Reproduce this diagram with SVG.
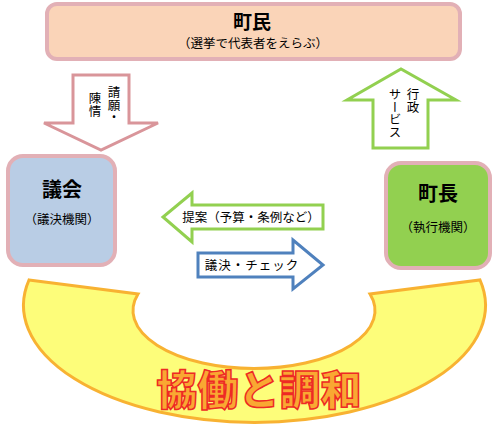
<svg xmlns="http://www.w3.org/2000/svg" width="500" height="433" viewBox="0 0 500 433">
<style>
.t{font-family:"Noto Sans CJK JP","Noto Sans",sans-serif;fill:#000;text-anchor:middle}
.b{font-weight:bold}
.box{stroke:#e2b0b6;stroke-width:4}
.arr{fill:#fff;stroke-width:3;stroke-linejoin:miter}
.v{writing-mode:vertical-rl;font-size:12.5px}
</style>
<rect width="500" height="433" fill="#fff"/>
<g id="connectors">
  <g id="petition">
    <path class="arr" stroke="#d9959a" d="M73 75 H129 V123 H158 L101 150 L44 123 H73 Z"/>
    <text class="t v" x="114" y="86" style="text-anchor:start">請願・</text>
    <text class="t v" x="95" y="92" style="text-anchor:start">陳情</text>
  </g>
  <g id="service">
    <path class="arr" stroke="#92d050" d="M373 148 V100 H347 L401 69 L456 100 H428 V148 Z"/>
    <text class="t v" x="413" y="88" style="text-anchor:start">行政</text>
    <text class="t v" x="395" y="88" style="text-anchor:start">サービス</text>
  </g>
  <g id="proposal">
    <path class="arr" stroke="#92d050" d="M323 205 V229 H192 V242 L163 217 L192 193 V205 Z"/>
    <text class="t" x="251" y="222" font-size="12.5">提案（予算・条例など）</text>
  </g>
  <g id="check">
    <path class="arr" stroke="#4f81bd" d="M198 253 H293 V240 L323 265 L293 289 V277 H198 Z"/>
    <text class="t" x="252" y="270" font-size="12.5" letter-spacing="1">議決・チェック</text>
  </g>
</g>
<g id="residents">
  <rect class="box" x="47" y="4" width="413" height="55" rx="10" fill="#fad4b8"/>
  <text class="t b" x="252" y="29" font-size="19">町民</text>
  <text class="t" x="253" y="48" font-size="12.5">（選挙で代表者をえらぶ）</text>
</g>
<g id="assembly">
  <rect class="box" x="8" y="156" width="107" height="109" rx="15" fill="#b9cde5"/>
  <text class="t b" x="62" y="197" font-size="20">議会</text>
  <text class="t" x="62" y="224" font-size="12.5">（議決機関）</text>
</g>
<g id="mayor">
  <rect class="box" x="386" y="163" width="104" height="105" rx="15" fill="#92d050"/>
  <text class="t b" x="438" y="201" font-size="20">町長</text>
  <text class="t" x="438" y="232" font-size="12.5">（執行機関）</text>
</g>
<g id="cooperation">
  <path d="M29 280 L138 294 A121 58 0 1 0 370 294 L480 280 A231 117 0 1 1 29 280 Z" fill="#fdfd7a" stroke="#f8b232" stroke-width="3"/>
  <text class="t" x="259" y="405" font-size="41" font-weight="900" style="fill:#f9a832;stroke:#ee2a24;stroke-width:1.5">協働と調和</text>
</g>
</svg>
